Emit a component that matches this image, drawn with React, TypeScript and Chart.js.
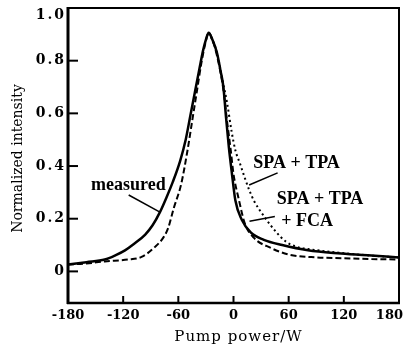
import { useEffect, useRef } from "react";
import { Chart, registerables } from "chart.js";

Chart.register(...registerables);

// ---- data ----
const xTicks = [-180, -120, -60, 0, 60, 120, 180];
const xTickLabels = ["-180", "-120", "-60", "0", "60", "120", "180"];
const yTicks = [0, 0.2, 0.4, 0.6, 0.8, 1.0];
const yTickLabels = ["0", "0.2", "0.4", "0.6", "0.8", "1.0"];

const measuredX = [-180, -160, -140, -128, -118, -108, -96, -88, -80, -73, -66, -58, -52, -47, -42, -37, -33, -30, -27, -23, -18, -14, -11, -8, -5, -2, 2, 9, 19, 33, 53, 81, 117, 150, 180];
const measuredY = [0.026, 0.035, 0.045, 0.062, 0.08, 0.105, 0.14, 0.175, 0.225, 0.28, 0.34, 0.42, 0.5, 0.59, 0.68, 0.77, 0.84, 0.88, 0.906, 0.88, 0.83, 0.76, 0.7, 0.58, 0.47, 0.38, 0.27, 0.196, 0.147, 0.12, 0.1, 0.08, 0.068, 0.06, 0.053];

const fcaX = [-180, -160, -140, -115, -100, -85, -76, -71, -65, -57, -50, -45, -40, -35, -31, -27, -23, -18, -11, -7, -3, 0, 6, 12, 22, 40, 60, 91, 120, 150, 180];
const fcaY = [0.026, 0.03, 0.038, 0.045, 0.055, 0.094, 0.13, 0.165, 0.24, 0.33, 0.46, 0.57, 0.68, 0.79, 0.86, 0.906, 0.88, 0.82, 0.69, 0.57, 0.46, 0.37, 0.27, 0.185, 0.128, 0.09, 0.064, 0.053, 0.05, 0.047, 0.045];

const tpaX = [-27, -23, -18, -11, -7, -2, 2, 7, 12, 17, 22, 33, 47, 57, 68, 81, 117, 150, 180];
const tpaY = [0.906, 0.88, 0.83, 0.71, 0.64, 0.53, 0.46, 0.41, 0.358, 0.31, 0.27, 0.21, 0.147, 0.113, 0.094, 0.085, 0.07, 0.06, 0.053];

// annotations (data coordinates)
const labelMeasured = { text: "measured", x: -155, y: 0.328 };
const leaderMeasured = [[-114, 0.29], [-80, 0.225]];
const labelTpa = { text: "SPA + TPA", x: 21.5, y: 0.41 };
const leaderTpa = [[17, 0.328], [48, 0.374]];
const labelFca1 = { text: "SPA + TPA", x: 47, y: 0.275 };
const labelFca2 = { text: "+ FCA", x: 52, y: 0.19 };
const leaderFca = [[17.4, 0.19], [45, 0.208]];

const xTitle = "Pump power/W";
const yTitle = "Normalized intensity";

const toPoints = (xs: number[], ys: number[]) => xs.map((x, i) => ({ x, y: ys[i] }));

const decoPlugin = {
  id: "deco",
  afterDraw(chart: any) {
    const { ctx, chartArea: a } = chart;
    const xs = chart.scales.x;
    const ys = chart.scales.y;
    ctx.save();
    ctx.strokeStyle = "#000";
    ctx.fillStyle = "#000";
    ctx.lineCap = "butt";

    // frame
    ctx.lineWidth = 2;
    ctx.strokeRect(a.left, a.top, a.right - a.left, a.bottom - a.top);
    ctx.lineWidth = 3;
    ctx.beginPath();
    ctx.moveTo(a.left, a.top - 1);
    ctx.lineTo(a.left, a.bottom + 1);
    ctx.stroke();
    ctx.lineWidth = 2.5;
    ctx.beginPath();
    ctx.moveTo(a.left - 1, a.bottom);
    ctx.lineTo(a.right + 1, a.bottom);
    ctx.stroke();

    // inward ticks
    ctx.lineWidth = 2;
    xTicks.forEach((v) => {
      const px = xs.getPixelForValue(v);
      ctx.beginPath();
      ctx.moveTo(px, a.bottom);
      ctx.lineTo(px, a.bottom - 7);
      ctx.stroke();
    });
    yTicks.forEach((v) => {
      const py = ys.getPixelForValue(v);
      ctx.beginPath();
      ctx.moveTo(a.left, py);
      ctx.lineTo(a.left + 10, py);
      ctx.stroke();
    });

    // tick labels
    ctx.font = 'bold 13px "DejaVu Serif"';
    ctx.textAlign = "center";
    ctx.textBaseline = "middle";
    xTickLabels.forEach((t, i) => {
      const w = ctx.measureText(t).width;
      let px = xs.getPixelForValue(xTicks[i]);
      px = Math.min(px, chart.width - w / 2 - 2);
      px = Math.max(px, w / 2 + 2);
      ctx.fillText(t, px, a.bottom + 13);
    });
    ctx.font = 'bold 14px "DejaVu Serif"';
    (ctx as any).letterSpacing = "2px";
    ctx.textAlign = "right";
    yTickLabels.forEach((t, i) => {
      let py = ys.getPixelForValue(yTicks[i]);
      py = Math.max(py, 15);
      ctx.fillText(t, a.left - 2, py);
    });

    // axis titles
    (ctx as any).letterSpacing = "1px";
    ctx.font = '15px "DejaVu Serif"';
    ctx.textAlign = "center";
    ctx.fillText(xTitle, (a.left + a.right) / 2 + 5, a.bottom + 34);
    (ctx as any).letterSpacing = "0px";
    ctx.font = '14px "DejaVu Serif"';
    ctx.save();
    ctx.translate(18, (a.top + a.bottom) / 2 + 3);
    ctx.rotate(-Math.PI / 2);
    ctx.fillText(yTitle, 0, 0);
    ctx.restore();

    // annotations
    ctx.font = 'bold 18px "Liberation Serif"';
    ctx.textAlign = "left";
    [labelMeasured, labelTpa, labelFca1, labelFca2].forEach((l) => {
      ctx.fillText(l.text, xs.getPixelForValue(l.x), ys.getPixelForValue(l.y));
    });
    ctx.lineWidth = 1.5;
    [leaderMeasured, leaderTpa, leaderFca].forEach((seg) => {
      ctx.beginPath();
      ctx.moveTo(xs.getPixelForValue(seg[0][0]), ys.getPixelForValue(seg[0][1]));
      ctx.lineTo(xs.getPixelForValue(seg[1][0]), ys.getPixelForValue(seg[1][1]));
      ctx.stroke();
    });
    ctx.restore();
  },
};

export default function App() {
  const ref = useRef<HTMLCanvasElement | null>(null);
  useEffect(() => {
    if (!ref.current) return;
    const chart = new Chart(ref.current, {
      type: "line",
      data: {
        datasets: [
          {
            label: "SPA + TPA + FCA",
            data: toPoints(fcaX, fcaY),
            borderColor: "#000",
            borderWidth: 2,
            borderDash: [6, 3],
            pointRadius: 0,
            cubicInterpolationMode: "monotone",
            fill: false,
          },
          {
            label: "SPA + TPA",
            data: toPoints(tpaX, tpaY),
            borderColor: "#000",
            borderWidth: 2,
            borderDash: [2, 3],
            pointRadius: 0,
            cubicInterpolationMode: "monotone",
            fill: false,
          },
          {
            label: "measured",
            data: toPoints(measuredX, measuredY),
            borderColor: "#000",
            borderWidth: 2.5,
            pointRadius: 0,
            cubicInterpolationMode: "monotone",
            fill: false,
          },
        ],
      },
      options: {
        animation: false,
        responsive: false,
        devicePixelRatio: 1,
        layout: { padding: { left: 0, top: 8, right: 6, bottom: 0 } },
        plugins: { legend: { display: false }, tooltip: { enabled: false } },
        scales: {
          x: {
            type: "linear",
            min: -180,
            max: 180,
            grid: { display: false },
            border: { display: false },
            ticks: { display: false },
            afterFit: (s: any) => {
              s.height = 44;
              s.paddingLeft = 0;
              s.paddingRight = 0;
            },
          },
          y: {
            type: "linear",
            min: -0.12,
            max: 1.0,
            grid: { display: false },
            border: { display: false },
            ticks: { display: false },
            afterFit: (s: any) => {
              s.width = 68;
              s.paddingTop = 0;
              s.paddingBottom = 0;
            },
          },
        },
      },
      plugins: [decoPlugin],
    } as any);
    return () => chart.destroy();
  }, []);
  return (
    <div style={{ position: "fixed", left: 0, top: 0, width: 405, height: 347, background: "#fff" }}>
      <canvas ref={ref} width={405} height={347} style={{ display: "block" }} />
    </div>
  );
}
